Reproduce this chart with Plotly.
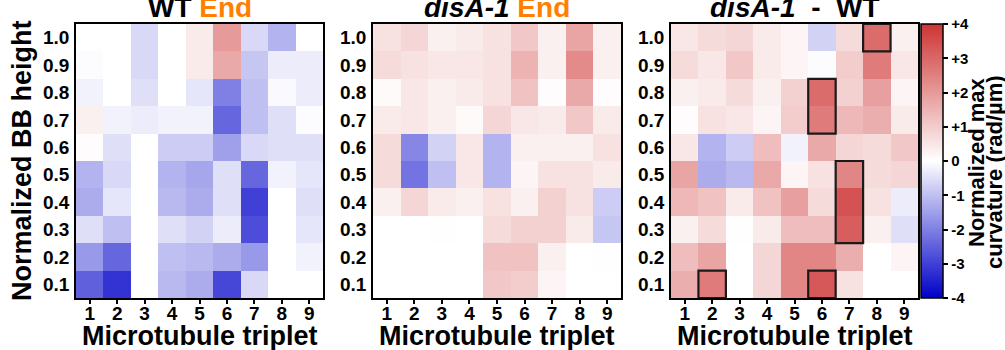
import plotly.graph_objects as go

triplets = [1, 2, 3, 4, 5, 6, 7, 8, 9]
heights = [0.1, 0.2, 0.3, 0.4, 0.5, 0.6, 0.7, 0.8, 0.9, 1.0]

# rows listed from height 0.1 (bottom) to 1.0 (top)
wt_end = [
    [-2.5, -3.2, 0.0, -1.1, -1.3, -2.9, -0.6, 0.0, 0.0],
    [-1.6, -2.4, 0.0, -1.0, -1.1, -1.3, -1.6, 0.0, -0.2],
    [-0.5, -1.0, 0.0, -0.5, -0.7, -0.3, -2.8, 0.0, -0.4],
    [-1.3, -0.4, 0.0, -1.1, -1.3, -0.5, -3.0, 0.0, -0.5],
    [-1.2, -0.6, 0.0, -1.2, -1.4, -0.5, -2.4, -0.2, -0.4],
    [0.05, -0.5, 0.0, -0.8, -0.8, -1.5, -0.6, -0.5, -0.5],
    [0.3, -0.2, -0.3, -0.2, -0.2, -2.4, -1.0, -0.5, -0.05],
    [-0.2, 0.0, -0.5, 0.0, -0.4, -2.0, -1.0, -0.1, -0.3],
    [-0.05, 0.0, -0.6, 0.0, 0.4, 1.7, -0.9, -0.3, -0.3],
    [0.0, 0.0, -0.6, 0.0, 0.4, 2.0, -0.6, -1.2, 0.0],
]

disa_end = [
    [0.0, 0.0, 0.0, 0.0, 1.1, 1.0, 0.2, 0.0, 0.0],
    [0.0, 0.0, 0.0, 0.0, 1.2, 1.2, 0.3, 0.0, 0.02],
    [0.0, 0.0, 0.02, 0.0, 0.7, 0.9, 0.9, 0.4, -0.9],
    [0.3, 0.8, 0.4, 0.3, 0.6, 0.3, 0.9, 0.6, -0.8],
    [0.7, -2.2, -1.0, 0.5, -1.2, 0.2, 0.6, 0.6, 0.4],
    [0.7, -1.9, -0.7, 0.5, -1.2, 0.3, 0.3, 0.3, 0.6],
    [0.4, 0.5, 0.3, 0.1, 0.8, 0.5, 0.4, 1.1, 0.4],
    [0.1, 0.5, 0.3, 0.4, 0.6, 1.2, 0.05, 1.7, 0.05],
    [0.7, 0.6, 0.5, 0.5, 0.6, 1.5, 0.3, 2.3, 0.3],
    [0.6, 0.8, 0.3, 0.4, 0.6, 1.1, 0.3, 1.8, 0.3],
]

disa_minus_wt = [
    [1.6, 2.6, 0.0, 0.8, 2.4, 3.3, 0.6, 0.0, 0.0],
    [1.3, 1.8, 0.0, 0.8, 2.4, 2.4, 1.6, 0.0, 0.2],
    [0.3, 0.7, 0.02, 0.4, 1.3, 1.3, 3.2, 0.3, -0.5],
    [1.4, 1.2, 0.4, 1.2, 1.9, 0.7, 3.4, 0.6, -0.3],
    [1.8, -1.3, -1.1, 1.7, 0.2, 0.6, 2.4, 0.7, 0.8],
    [0.5, -1.2, -0.8, 1.3, -0.2, 1.7, 0.8, 0.7, 1.1],
    [0.05, 0.6, 0.5, 0.2, 1.0, 2.6, 1.4, 1.6, 0.4],
    [0.3, 0.4, 0.7, 0.3, 0.9, 2.9, 0.9, 1.9, 0.2],
    [0.7, 0.5, 1.1, 0.4, 0.2, -0.05, 1.0, 2.6, 0.5],
    [0.5, 0.7, 0.8, 0.4, 0.2, -0.7, 0.7, 2.9, 0.3],
]

# significant cells in the difference map: (triplet, height from, height to)
significant = [(8, 1.0, 1.0), (6, 0.7, 0.8), (7, 0.3, 0.5), (2, 0.1, 0.1), (6, 0.1, 0.1)]

cbar_tickvals = [-4, -3, -2, -1, 0, 1, 2, 3, 4]
cbar_ticktext = ["-4", "-3", "-2", "-1", "0", "+1", "+2", "+3", "+4"]

W, H = 1005, 350
FONT = "Liberation Sans, Arial, sans-serif"
ORANGE = "#FF8000"

panels_px = [(76, 323), (373, 621), (671, 918)]
y_top_px, y_bot_px = 24, 298

def px_x(p):
    return p / W

def px_y(p):
    return 1 - p / H

colorscale = [[0.0, "rgb(0,0,200)"], [0.5, "rgb(255,255,255)"], [1.0, "rgb(206,52,52)"]]

fig = go.Figure()
datasets = [wt_end, disa_end, disa_minus_wt]
for i, z in enumerate(datasets):
    fig.add_trace(go.Heatmap(
        x=triplets, y=heights, z=z, coloraxis="coloraxis",
        xaxis="x" if i == 0 else f"x{i+1}",
        yaxis="y" if i == 0 else f"y{i+1}",
        hoverongaps=False,
    ))

layout = dict(
    width=W, height=H,
    margin=dict(l=0, r=0, t=0, b=0),
    paper_bgcolor="white", plot_bgcolor="white",
    font=dict(family=FONT, color="black"),
    showlegend=False,
    coloraxis=dict(
        colorscale=colorscale, cmin=-4, cmax=4,
        colorbar=dict(
            x=px_x(921), xanchor="left",
            y=px_y((y_top_px + y_bot_px) / 2), yanchor="middle",
            len=(y_bot_px - y_top_px) / H, lenmode="fraction",
            thickness=22, thicknessmode="pixels",
            outlinewidth=1.5, outlinecolor="black",
            tickvals=cbar_tickvals, ticktext=cbar_ticktext,
            ticks="outside", ticklen=5, tickwidth=1.5, tickcolor="black",
            tickfont=dict(family=FONT, size=15, weight="bold"),
            xpad=0, ypad=0,
        ),
    ),
)

for i, (x0, x1) in enumerate(panels_px):
    xk = "xaxis" if i == 0 else f"xaxis{i+1}"
    yk = "yaxis" if i == 0 else f"yaxis{i+1}"
    yanchor_id = "y" if i == 0 else f"y{i+1}"
    xanchor_id = "x" if i == 0 else f"x{i+1}"
    layout[xk] = dict(
        domain=[px_x(x0), px_x(x1)], anchor=yanchor_id,
        range=[0.5, 9.5], tickvals=triplets, ticktext=[str(t) for t in triplets],
        showline=True, linecolor="black", linewidth=1.5, mirror=True,
        ticks="outside", ticklen=4, tickwidth=1.5, tickcolor="black",
        ticklabelstandoff=-7,
        tickfont=dict(family=FONT, size=19, weight="bold"),
        showgrid=False, zeroline=False,
    )
    layout[yk] = dict(
        domain=[px_y(y_bot_px), px_y(y_top_px)], anchor=xanchor_id,
        range=[0.05, 1.05], tickvals=heights, ticktext=[f"{h:.1f}" for h in heights],
        showline=True, linecolor="black", linewidth=1.5, mirror=True,
        ticks="", ticklabelstandoff=1,
        tickfont=dict(family=FONT, size=19, weight="bold"),
        showgrid=False, zeroline=False,
    )

fig.update_layout(**layout)

titles = [
    f"WT <span style='color:{ORANGE}'>End</span>",
    f"<i>disA-1</i> <span style='color:{ORANGE}'>End</span>",
    "<i>disA-1</i>\u00a0\u00a0-\u00a0\u00a0WT",
]
for (x0, x1), t in zip(panels_px, titles):
    fig.add_annotation(
        x=px_x((x0 + x1) / 2), y=px_y(7), xref="paper", yref="paper",
        text=t, showarrow=False, xanchor="center", yanchor="middle",
        font=dict(family=FONT, size=28, weight="bold", color="black"),
    )
    fig.add_annotation(
        x=px_x((x0 + x1) / 2), y=px_y(336), xref="paper", yref="paper",
        text="Microtubule triplet", showarrow=False, xanchor="center", yanchor="middle",
        font=dict(family=FONT, size=27, weight="bold", color="black"),
    )

fig.add_annotation(
    x=px_x(22), y=px_y(161), xref="paper", yref="paper",
    text="Normalized BB height", showarrow=False, textangle=-90,
    xanchor="center", yanchor="middle",
    font=dict(family=FONT, size=27, weight="bold", color="black"),
)
for txt, xc, yc in [("Normalized max", 976, 163), ("curvature (rad/µm)", 994, 172)]:
    fig.add_annotation(
        x=px_x(xc), y=px_y(yc), xref="paper", yref="paper",
        text=txt, showarrow=False, textangle=-90,
        xanchor="center", yanchor="middle",
        font=dict(family=FONT, size=22, weight="bold", color="black"),
    )

for col, lo, hi in significant:
    fig.add_shape(
        type="rect", xref="x3", yref="y3",
        x0=col - 0.5, x1=col + 0.5, y0=lo - 0.05, y1=hi + 0.05,
        line=dict(color="#1a1a1a", width=2.2), fillcolor="rgba(0,0,0,0)",
    )

fig.write_html(
    "out.html",
    config={"displayModeBar": False},
    post_script="document.body.style.margin='0px';document.body.style.overflow='hidden';",
)
